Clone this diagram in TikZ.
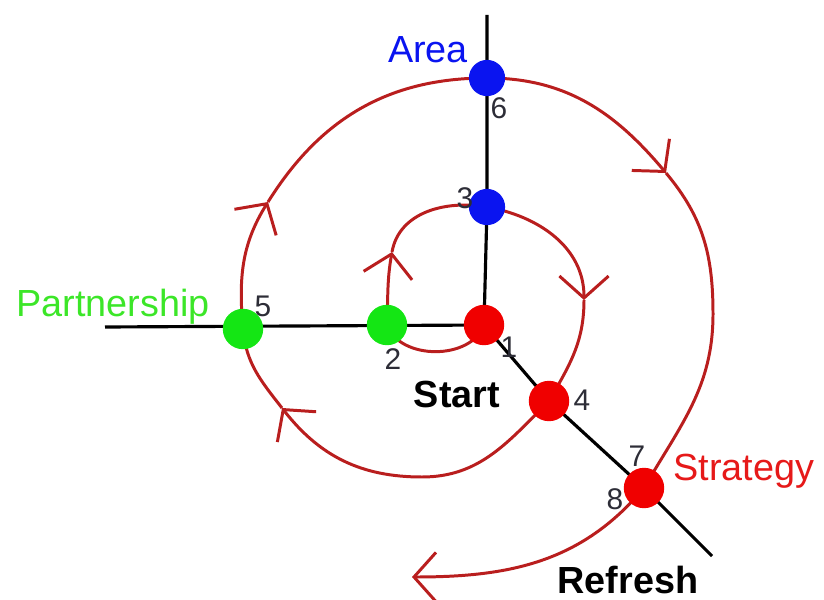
\documentclass[tikz,border=0pt]{standalone}
\usepackage{fontspec}
\setmainfont{Liberation Sans}
\usetikzlibrary{arrows.meta, backgrounds}
\definecolor{spiralred}{RGB}{185,30,30}
\definecolor{dotred}{RGB}{240,0,0}
\definecolor{dotblue}{RGB}{10,20,240}
\definecolor{dotgreen}{RGB}{20,230,20}
\definecolor{wordgreen}{RGB}{60,230,40}
\definecolor{wordred}{RGB}{230,25,25}
\definecolor{numgray}{RGB}{45,45,55}

\begin{document}
\begin{tikzpicture}[x=0.02cm, y=0.02cm,
	dot/.style={circle, fill=#1, inner sep=0pt, minimum size=23pt},
	num/.style={text=numgray, font=\fontsize{17}{20}\selectfont},
	word/.style={font=\fontsize{21.5}{25}\selectfont},
	strong/.style={font=\fontsize{21.5}{25}\selectfont\bfseries},
	spiral/.style={spiralred, line width=1.7pt},
	barb/.style={-{Straight Barb[length=12.5pt,width=28pt]}}]
	\useasboundingbox (0,0) rectangle (824,599);
	\node[dot=dotred] (d1) at (484,274) {};
	\node[dot=dotgreen] (d2) at (387,274) {};
	\node[dot=dotblue, minimum size=20.6pt] (d3) at (487,392) {};
	\node[dot=dotred] (d4) at (549,198) {};
	\node[dot=dotgreen] (d5) at (243,270) {};
	\node[dot=dotblue, minimum size=20.6pt] (d6) at (487,521) {};
	\node[dot=dotred] (d7) at (644,111) {};
	\coordinate (north) at (487,584);
	\coordinate (west) at (105,272);
	\coordinate (southeast) at (712,43);
	\coordinate (a1) at (392,347);
	\coordinate (a2) at (584,299);
	\coordinate (b1) at (422,122);
	\coordinate (a3) at (282,191);
	\coordinate (a4) at (268,397);
	\coordinate (a5) at (666,426);
	\coordinate (r1) at (713,285);
	\coordinate (fin) at (412,22);
	\begin{scope}[on background layer]
		\draw[line width=1.8pt] (north) -- (d6.center) -- (d3.center) -- (d1.center) -- (west);
		\draw[line width=1.8pt] (d1.center) -- (d4.center) -- (d7.center) -- (southeast);
		\draw[spiral] (d1.center) to[out=-110,in=-70] (d2.center);
		\draw[spiral, barb] (d2.center) to[out=88,in=-100] (a1);
		\draw[spiral] (a1) to[out=80,in=170] (d3.center);
		\draw[spiral, barb] (d3.center) to[out=-10,in=90] (a2);
		\draw[spiral] (a2) to[out=-90,in=60] (d4.center);
		\draw[spiral] (d4.center) to[out=-135,in=0] (b1);
		\draw[spiral, barb] (b1) to[out=180,in=-52] (a3);
		\draw[spiral] (a3) to[out=128,in=-85] (d5.center);
		\draw[spiral, barb] (d5.center) to[out=95,in=-122] (a4);
		\draw[spiral] (a4) to[out=58,in=180] (d6.center);
		\draw[spiral, barb] (d6.center) to[out=0,in=130] (a5);
		\draw[spiral] (a5) to[out=-50,in=90] (r1) to[out=-90,in=60] (d7.center);
		\draw[spiral, barb] (d7.center) to[out=-130,in=0] (fin);
	\end{scope}
	\node[word, text=dotblue] (area) at (428,549) {Area};
	\node[word, text=wordgreen] (partnership) at (113,292) {Partnership};
	\node[word, text=wordred] (strategy) at (744,128) {Strategy};
	\node[strong] (start) at (457,205) {Start};
	\node[strong] (refresh) at (628,19) {Refresh};
	\node[num] (n1) at (509,252) {1};
	\node[num] (n2) at (393,240) {2};
	\node[num] (n3) at (465,401) {3};
	\node[num] (n4) at (582,199) {4};
	\node[num] (n5) at (263,293) {5};
	\node[num] (n6) at (499,491) {6};
	\node[num] (n7) at (637,143) {7};
	\node[num] (n8) at (615,100) {8};
\end{tikzpicture}
\end{document}
